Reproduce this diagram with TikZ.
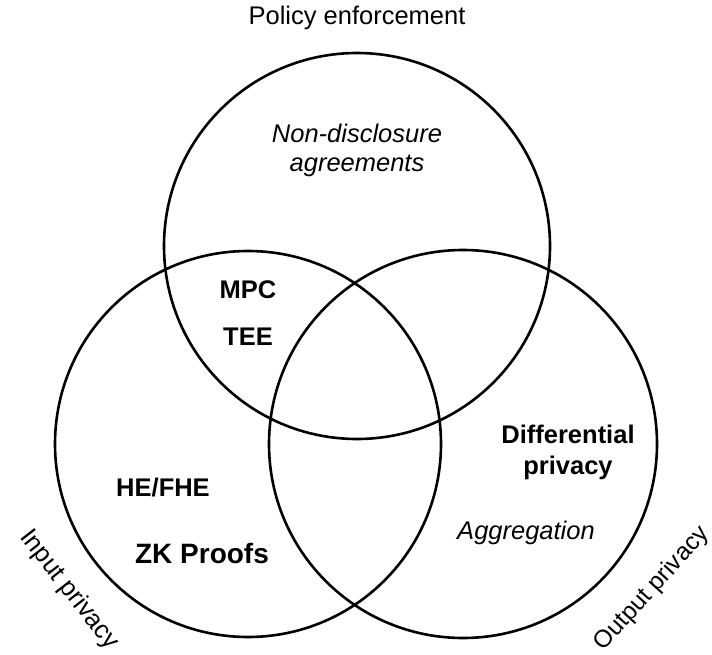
\documentclass[tikz,border=0pt]{standalone}
\usepackage{fontspec}
\setmainfont{Liberation Sans}
\begin{document}
\begin{tikzpicture}[x=1pt,y=-1pt,
  ring/.style={draw=black,line width=2.6pt},
  lbl/.style={font=\fontsize{25.5}{30}\selectfont,align=center,inner sep=0pt},
  blbl/.style={lbl,font=\fontsize{25.5}{31}\selectfont\bfseries},
  ilbl/.style={lbl,font=\fontsize{25.5}{29}\selectfont\itshape}]
\useasboundingbox (0,0) rectangle (712,655);
\node[ring,circle,minimum size=386pt,inner sep=0pt] (top) at (357,246) {};
\node[ring,circle,minimum size=386pt,inner sep=0pt] (left) at (248,444) {};
\node[ring,circle,minimum size=388pt,inner sep=0pt] (right) at (463,444) {};
\node[lbl] (policy) at (357,18) {Policy enforcement};
\node[ilbl] (nda) at (357,150) {Non-disclosure\\agreements};
\node[blbl] (mpc) at (248,290) {MPC};
\node[blbl] (tee) at (248,337) {TEE};
\node[blbl] (dp) at (568,452) {Differential\\privacy};
\node[blbl] (he) at (163,488) {HE/FHE};
\node[blbl,font=\fontsize{28}{32}\selectfont\bfseries] (zk) at (202,553) {ZK Proofs};
\node[ilbl] (agg) at (526,533) {Aggregation};
\node[lbl,rotate=-52] (inp) at (69,590) {Input privacy};
\node[lbl,font=\fontsize{24.5}{29}\selectfont,rotate=48] (outp) at (652,589) {Output privacy};
\end{tikzpicture}
\end{document}
